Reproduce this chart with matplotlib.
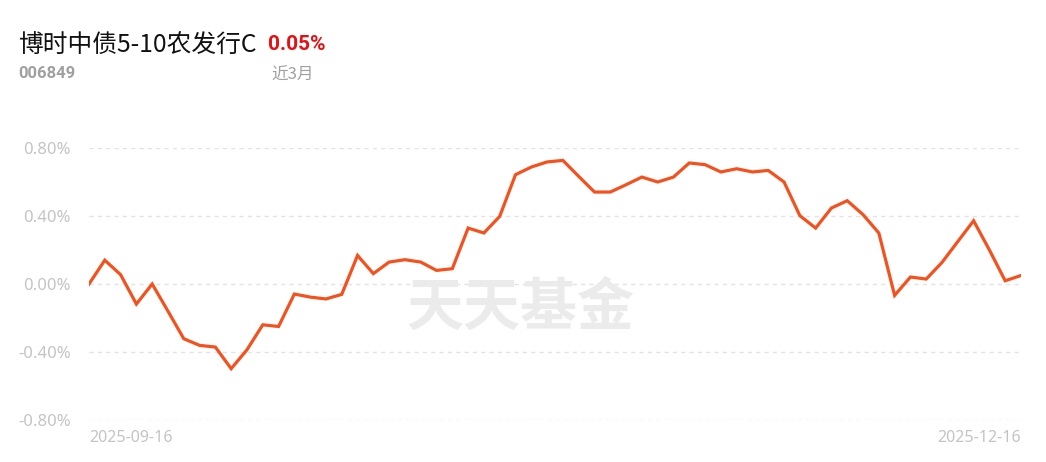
import matplotlib.pyplot as plt
import numpy as np

plt.rcParams['font.family'] = ['Noto Sans', 'Noto Sans CJK SC', 'DejaVu Sans']

# fund info
fund_name = "博时中债5-10农发行C"
fund_code = "006849"
period_label = "近3月"
period_return = "0.05%"
start_date = "2025-09-16"
end_date = "2025-12-16"

# cumulative return (%)
returns = [0.00, 0.14, 0.055, -0.118, 0.00, -0.16, -0.322, -0.361, -0.371, -0.498,
           -0.387, -0.24, -0.25, -0.059, -0.077, -0.088, -0.061, 0.168, 0.061, 0.129,
           0.143, 0.129, 0.08, 0.09, 0.329, 0.30, 0.398, 0.643, 0.688, 0.718,
           0.727, 0.633, 0.541, 0.541, 0.584, 0.629, 0.60, 0.629, 0.712, 0.702,
           0.659, 0.678, 0.659, 0.668, 0.60, 0.402, 0.329, 0.447, 0.49, 0.408,
           0.30, -0.067, 0.041, 0.029, 0.127, 0.25, 0.372, 0.20, 0.019, 0.05]
y_ticks = [-0.8, -0.4, 0.0, 0.4, 0.8]

fig = plt.figure(figsize=(10.46, 4.62), dpi=100)
ax = fig.add_axes([89 / 1046, 1 - 420 / 462, (1021 - 89) / 1046, 272 / 462])

x = np.arange(len(returns))
ax.plot(x, returns, color="#f4511e", lw=2.3, solid_joinstyle="miter", zorder=3)

ax.set_xlim(0, len(returns) - 1)
ax.set_ylim(-0.8, 0.8)
ax.set_yticks(y_ticks)
ax.set_yticklabels(["%.2f%%" % v for v in y_ticks])
ax.tick_params(axis="y", length=0, pad=13, labelsize=12, labelcolor="#c4c4c4")
ax.set_xticks([])
for s in ax.spines.values():
    s.set_visible(False)
ax.grid(axis="y", color="#e3e3e3", lw=1, ls=(0, (3, 3)))
ax.set_axisbelow(True)

# date labels under the plot
ax.text(0, -0.035, start_date, transform=ax.transAxes, ha="left", va="top",
        fontsize=11.5, color="#c4c4c4")
ax.text(1, -0.035, end_date, transform=ax.transAxes, ha="right", va="top",
        fontsize=11.5, color="#c4c4c4")

# watermark
fig.text(520 / 1046, 1 - 308 / 462, "天天基金", ha="center", va="center",
         fontsize=41, fontweight="bold", color="#ebebeb",
         family=["Noto Sans CJK SC"], zorder=0)

# header
fig.text(18 / 1046, 1 - 45 / 462, fund_name, ha="left", va="center",
         fontsize=17.8, color="#111111", family=["Noto Sans CJK SC", "DejaVu Sans"])
fig.text(268 / 1046, 1 - 45 / 462, period_return, ha="left", va="center",
         fontsize=15, fontweight="bold", color="#e60f14", family=["Roboto"])
fig.text(18 / 1046, 1 - 74 / 462, fund_code, ha="left", va="center",
         fontsize=12, fontweight="bold", color="#a0a0a0", family=["Roboto"])
fig.text(271 / 1046, 1 - 75 / 462, period_label, ha="left", va="center",
         fontsize=12, color="#a0a0a0", family=["Noto Sans CJK SC", "DejaVu Sans"])

fig.savefig("out.png", dpi=100)
